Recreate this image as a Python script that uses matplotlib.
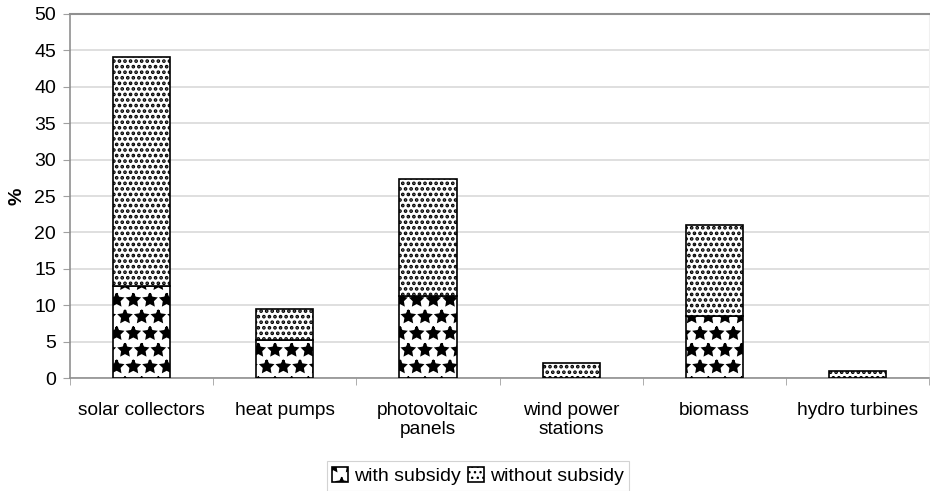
import matplotlib
matplotlib.use("Agg")
import matplotlib.pyplot as plt
import numpy as np

categories = ["solar collectors", "heat pumps", "photovoltaic\npanels",
              "wind power\nstations", "biomass", "hydro turbines"]
with_subsidy = [12.6, 5.2, 11.3, 0.0, 8.5, 0.0]
without_subsidy = [31.5, 4.3, 16.0, 2.0, 12.5, 1.0]
yticks = list(range(0, 51, 5))

plt.rcParams['font.family'] = ['Liberation Sans', 'DejaVu Sans']
plt.rcParams['hatch.color'] = 'black'

fig = plt.figure(figsize=(9.30, 4.91), dpi=100)
ax = fig.add_axes([0.0753, 0.2301, 0.9237, 0.7414])

x = np.arange(len(categories))
w = 0.4
b1 = ax.bar(x, with_subsidy, w, color='white', edgecolor='black', linewidth=1.2,
            hatch='*', label='with subsidy', zorder=3)
b2 = ax.bar(x, without_subsidy, w, bottom=with_subsidy, color='white', edgecolor='black',
            linewidth=1.2, hatch='...', label='without subsidy', zorder=3)
for p in b1:
    try:
        p.set_hatch_linewidth(1.7)
    except Exception:
        pass
for p in b2:
    try:
        p.set_hatch_linewidth(1.8)
    except Exception:
        pass

ax.set_xlim(-0.5, len(categories) - 0.5)
ax.set_ylim(0, 50)
ax.set_yticks(yticks)
ax.set_yticklabels([str(v) for v in yticks], fontsize=14)
ax.yaxis.grid(True, color='#d9d9d9', linewidth=1.2, zorder=0)
ax.set_axisbelow(True)

ax.set_xticks(x)
ax.set_xticklabels(categories, fontsize=13.8, linespacing=1.2)
ax.tick_params(axis='x', length=0, pad=17)
ax.set_xticks(np.arange(len(categories) + 1) - 0.5, minor=True)
ax.tick_params(axis='x', which='minor', length=5, color='#a0a0a0', direction='out')
ax.tick_params(axis='y', length=5, color='#a0a0a0', direction='out', pad=5)

ax.set_ylabel('%', fontsize=14, fontweight='bold', labelpad=6)

for s in ['left', 'bottom']:
    ax.spines[s].set_color('#909090')
    ax.spines[s].set_linewidth(1.2)
ax.spines['top'].set_color('#909090')
ax.spines['top'].set_linewidth(1.5)
ax.spines['right'].set_color('#f0f0f0')

leg = fig.legend(handles=[b1, b2], loc='center', bbox_to_anchor=(0.514, 0.03),
                 ncol=2, fontsize=14, frameon=True, fancybox=False,
                 edgecolor='#c8c8c8', handlelength=0.8, handleheight=0.8,
                 handletextpad=0.3, columnspacing=0.4, borderpad=0.3)
leg.get_frame().set_linewidth(0.8)

fig.savefig('out.png', dpi=100, facecolor='white')
